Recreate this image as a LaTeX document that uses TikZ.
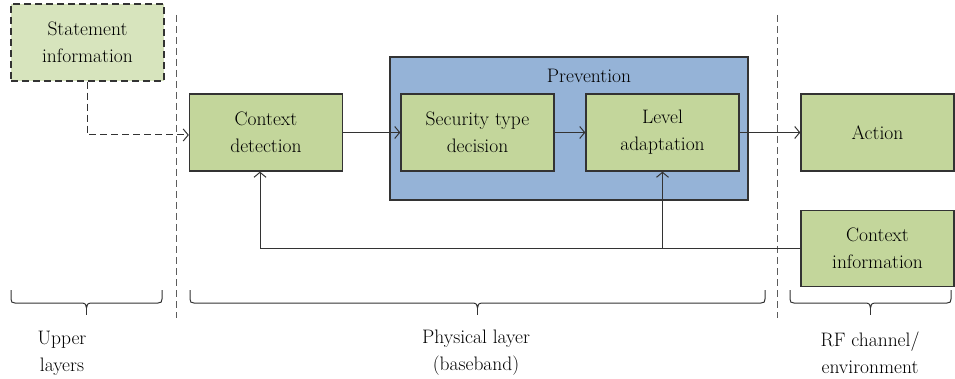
\documentclass[tikz,border=0pt]{standalone}
\usepackage{fontspec}
\usetikzlibrary{arrows.meta}
\definecolor{boxgreen}{HTML}{C3D69B}
\definecolor{lightgreen}{HTML}{D7E4BD}
\definecolor{prevblue}{HTML}{95B3D7}
\definecolor{ink}{HTML}{333333}
\newcommand\diagfs{\fontsize{19.5}{27}\selectfont}
\begin{document}
\begin{tikzpicture}[x=1pt,y=-1pt,
  box/.style={draw=ink, line width=1.3pt, fill=boxgreen, minimum width=153pt, minimum height=77pt, align=center, font=\diagfs, inner sep=0pt, text=black},
  arr/.style={draw=ink, line width=1pt, -{Straight Barb[length=5pt,width=12pt]}},
  sep/.style={draw=ink!80, line width=1pt, dash pattern=on 7pt off 4pt},
  brc/.style={draw=ink, line width=1pt},
  lbl/.style={align=center, font=\diagfs, text=black},
  pics/bracedown/.style args={#1/#2}{code={
    \draw[brc] (#1,290) -- (#1,299) .. controls (#1,302) and (#1+1,303) .. (#1+4,303)
      -- ({(#1+#2)/2-5},303) .. controls ({(#1+#2)/2-1},303) and ({(#1+#2)/2},305) .. ({(#1+#2)/2},308)
      .. controls ({(#1+#2)/2},305) and ({(#1+#2)/2+1},303) .. ({(#1+#2)/2+5},303)
      -- (#2-4,303) .. controls (#2-1,303) and (#2,302) .. (#2,299) -- (#2,290);
    \draw[brc] ({(#1+#2)/2},307) -- ({(#1+#2)/2},315);
  }}]
\useasboundingbox (0,0) rectangle (955,379);
% separators
\draw[sep] (176,15) -- (176,318);
\draw[sep] (777,15) -- (777,318);
% prevention container
\node[draw=ink, line width=1.3pt, fill=prevblue, minimum width=358pt, minimum height=143pt, inner sep=0pt] (prev) at (569,128.5) {};
\node[lbl] (prevlbl) at (589,76) {Prevention};
% boxes
\node[box, fill=lightgreen, dash pattern=on 7pt off 4pt] (stmt) at (87.5,42.5) {Statement\\information};
\node[box] (cd) at (266,132.5) {Context\\detection};
\node[box] (std) at (477.5,132.5) {Security type\\decision};
\node[box] (la) at (662.5,132.5) {Level\\adaptation};
\node[box] (act) at (877.5,132.5) {Action};
\node[box, minimum height=76pt] (ci) at (877.5,248.5) {Context\\information};
% arrows
\draw[arr] (cd) -- (std);
\draw[arr] (std) -- (la);
\draw[arr] (la) -- (act);
\draw[arr, dash pattern=on 7pt off 4pt] (stmt.south) |- ([yshift=-2.5pt]cd.west);
\draw[arr] (ci.west) -| ([xshift=-6pt]cd.south);
\draw[arr] (ci.west -| la.south) -- (la.south);
% braces
\pic {bracedown={11/162}};
\pic {bracedown={190/765}};
\pic {bracedown={790/951}};
% labels
\node[lbl] (upper) at (62,353) {Upper\\layers};
\node[lbl] (phys) at (476,353) {Physical layer\\(baseband)};
\node[lbl] (rf) at (870,353) {RF channel/\\environment};
\end{tikzpicture}
\end{document}
